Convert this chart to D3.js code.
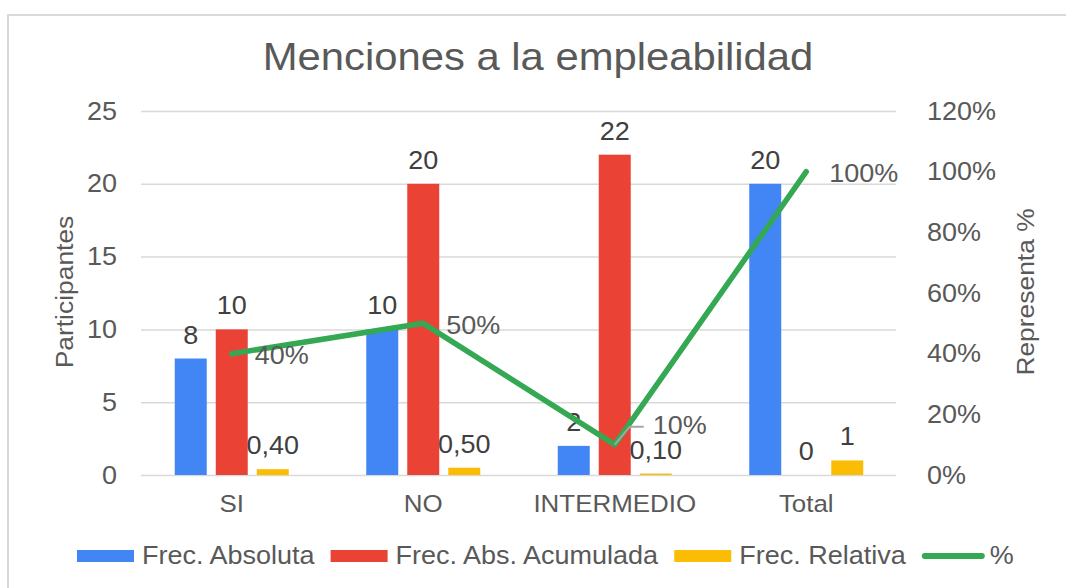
<!DOCTYPE html>
<html>
<head>
<meta charset="utf-8">
<script src="https://cdn.jsdelivr.net/npm/d3@7"></script>
<style>
  body { margin: 0; background: #fff; }
  text { font-family: "Liberation Sans", Arial, sans-serif; }
</style>
</head>
<body>
<div class="chart"></div>
<script>
var categories = ['SI', 'NO', 'INTERMEDIO', 'Total'];
var seriesNames = ['Frec. Absoluta', 'Frec. Abs. Acumulada', 'Frec. Relativa'];
var absoluta = [8, 10, 2, 20];
var acumulada = [10, 20, 22, 0];
var relativa = [0.40, 0.50, 0.10, 1];
var relativaLabels = ['0,40', '0,50', '0,10', '1'];
var porcentaje = [0.40, 0.50, 0.10, 1.00];
var leftTicks = [0, 5, 10, 15, 20, 25];
var rightTicks = [0, 0.2, 0.4, 0.6, 0.8, 1.0, 1.2];
var colors = ['#4285F4', '#EA4335', '#FBBC04'];
var lineColor = '#34A853';

var W = 1066, H = 588;
var margin = { top: 111, right: 170, bottom: 113, left: 141 };
var width = W - margin.left - margin.right;
var height = H - margin.top - margin.bottom;
var K = 1.08; // the source picture is a bit wider than tall

// widen text horizontally around its own anchor
function stretch(sel, k) {
  sel.each(function () {
    var t = d3.select(this);
    var x = +t.attr('x') || 0, y = +t.attr('y') || 0;
    var tr = t.attr('transform') || '';
    t.attr('x', 0).attr('y', 0)
      .attr('transform', tr + ` translate(${x},${y}) scale(${k},1)`);
  });
}

var svg = d3.select('.chart')
  .append('svg')
  .attr('width', W)
  .attr('height', H);

// frame
svg.append('rect')
  .attr('x', 8).attr('y', 15)
  .attr('width', W).attr('height', H)
  .style('fill', 'none')
  .style('stroke', '#d9d9d9')
  .style('stroke-width', 2);

svg.append('text')
  .attr('x', 538).attr('y', 70)
  .attr('text-anchor', 'middle')
  .style('font-size', '38px')
  .style('fill', '#595959')
  .text('Menciones a la empleabilidad')
  .call(stretch, 1.1);

var g = svg.append('g')
  .attr('transform', `translate(${margin.left},${margin.top})`);

var yScale = d3.scaleLinear().domain([0, 25]).range([height, 0]);
var y2Scale = d3.scaleLinear().domain([0, 1.2]).range([height, 0]);
var xScale = d3.scaleBand().domain(categories).range([-5, width + 6]);
var xInner = d3.scaleBand().domain(seriesNames).range([0, 114]).paddingInner(0.22);

// grid + left axis
var yAxis = d3.axisLeft(yScale).tickValues(leftTicks).tickSize(-width).tickPadding(24);
var ya = g.append('g').call(yAxis);
ya.select('.domain').remove();
ya.selectAll('line').style('stroke', '#d9d9d9').style('stroke-width', 1.5);
ya.selectAll('text').style('font-size', '25px').style('fill', '#595959').call(stretch, K);

var y2Axis = d3.axisRight(y2Scale).tickValues(rightTicks).tickSize(0).tickPadding(31)
  .tickFormat(d3.format('.0%'));
var y2a = g.append('g').attr('transform', `translate(${width},0)`).call(y2Axis);
y2a.select('.domain').remove();
y2a.selectAll('text').style('font-size', '25px').style('fill', '#595959').call(stretch, K);

var xAxis = d3.axisBottom(xScale).tickSize(0).tickPadding(20);
var xa = g.append('g').attr('transform', `translate(0,${height})`).call(xAxis);
xa.select('.domain').remove();
xa.selectAll('text').style('font-size', '24px').style('fill', '#595959').call(stretch, K);

// axis titles
svg.append('text')
  .attr('transform', 'translate(73,292) rotate(-90)')
  .attr('text-anchor', 'middle')
  .style('font-size', '24px').style('fill', '#595959')
  .text('Participantes')
  .call(stretch, 1.1);
svg.append('text')
  .attr('transform', 'translate(1034,292) rotate(-90)')
  .attr('text-anchor', 'middle')
  .style('font-size', '24px').style('fill', '#595959')
  .text('Representa %')
  .call(stretch, 1.1);

// bars
var seriesValues = [absoluta, acumulada, relativa];
var seriesLabels = [absoluta.map(String), acumulada.map(String), relativaLabels];
var bars = [];
categories.forEach(function (c, i) {
  seriesNames.forEach(function (s, j) {
    bars.push({ cat: c, s: s, j: j, v: seriesValues[j][i], label: seriesLabels[j][i] });
  });
});

var groupOffset = (xScale.bandwidth() - 114) / 2;
var barG = g.append('g');
barG.selectAll('rect').data(bars).enter().append('rect')
  .attr('x', d => xScale(d.cat) + groupOffset + xInner(d.s))
  .attr('y', d => yScale(d.v))
  .attr('width', xInner.bandwidth())
  .attr('height', d => height - yScale(d.v))
  .style('fill', d => colors[d.j]);

barG.selectAll('text').data(bars).enter().append('text')
  .attr('x', d => xScale(d.cat) + groupOffset + xInner(d.s) + xInner.bandwidth() / 2)
  .attr('y', d => yScale(d.v) - 15)
  .attr('text-anchor', 'middle')
  .style('font-size', '25px').style('fill', '#404040')
  .text(d => d.label)
  .call(stretch, K);

// line
var cx = d => xScale(d) + xScale.bandwidth() / 2;
var line = d3.line()
  .x((d, i) => cx(categories[i]))
  .y(d => y2Scale(d));
g.append('path')
  .datum(porcentaje)
  .attr('d', line)
  .style('fill', 'none')
  .style('stroke', lineColor)
  .style('stroke-width', 5.5)
  .style('stroke-linejoin', 'round')
  .style('stroke-linecap', 'round');

var fmtPct = d3.format('.0%');
porcentaje.forEach(function (p, i) {
  var x = cx(categories[i]), y = y2Scale(p);
  if (i === 2) {
    g.append('path')
      .attr('d', `M${x},${y} L${x + 15},${y - 18} L${x + 29},${y - 18}`)
      .style('fill', 'none').style('stroke', '#a6a6a6').style('stroke-width', 2);
    g.append('text')
      .attr('x', x + 38).attr('y', y - 19).attr('dy', '0.35em')
      .style('font-size', '25px').style('fill', '#595959')
      .text(fmtPct(p))
      .call(stretch, K);
  } else {
    g.append('text')
      .attr('x', x + 23).attr('y', y + 2).attr('dy', '0.35em')
      .style('font-size', '25px').style('fill', '#595959')
      .text(fmtPct(p))
      .call(stretch, K);
  }
});

// legend
var legendNames = seriesNames.concat(['%']);
var lx = 77;
legendNames.forEach(function (name, i) {
  if (i < 3) {
    svg.append('rect').attr('x', lx).attr('y', 550).attr('width', 57).attr('height', 12)
      .style('fill', colors[i]);
    lx += 65;
  } else {
    svg.append('line').attr('x1', lx + 3).attr('x2', lx + 60).attr('y1', 556).attr('y2', 556)
      .style('stroke', lineColor).style('stroke-width', 6).style('stroke-linecap', 'round');
    lx += 68;
  }
  var t = svg.append('text').attr('x', lx).attr('y', 564)
    .style('font-size', '25px').style('fill', '#595959')
    .text(name);
  var len = t.node().getComputedTextLength() * K;
  t.call(stretch, K);
  lx += len + 16;
});
</script>
</body>
</html>
